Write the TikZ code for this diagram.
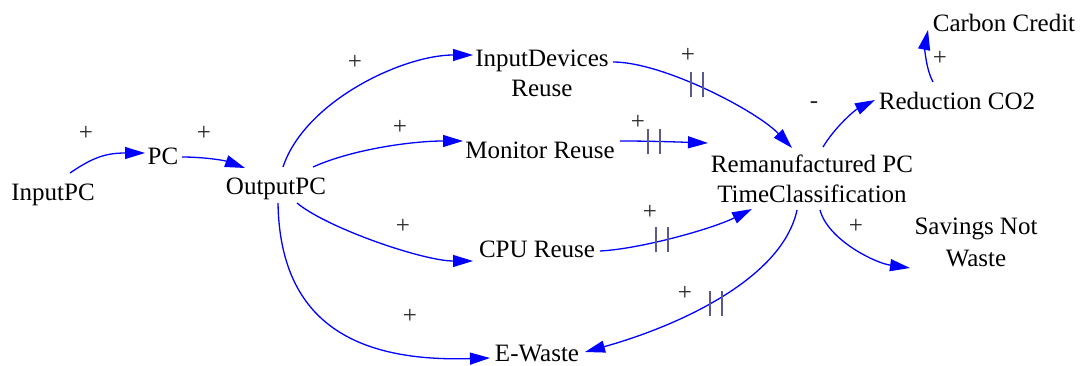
\documentclass[tikz,border=0pt]{standalone}
\usepackage{fontspec}
\setmainfont{Liberation Serif}
\usetikzlibrary{arrows.meta}
\definecolor{linkblue}{RGB}{0,0,255}
\definecolor{delaycol}{RGB}{90,90,140}
\tikzset{
  var/.style={anchor=base, inner sep=0pt, align=center, font=\fontsize{25}{30}\selectfont, text=black},
  pol/.style={inner sep=0pt, font=\fontsize{25}{30}\selectfont, text=black!85},
  link/.style={draw=linkblue, line width=1.3pt, -{Triangle[length=20pt,width=12pt,fill=linkblue]}},
  delaymark/.pic={\draw[delaycol, line width=1.1pt] (-6,-12.5) -- (-6,12.5) (6,-12.5) -- (6,12.5);}
}
\begin{document}
\begin{tikzpicture}[x=1pt,y=1pt]
\useasboundingbox (0,0) rectangle (1083,366);
% variables (base anchor = baseline of last line)
\node[var] (inpc) at (53,165) {InputPC};
\node[var] (pc) at (163,201) {PC};
\node[var] (outpc) at (276,171) {OutputPC};
\node[var] (indev) at (542,269) {InputDevices\\Reuse};
\node[var] (mon) at (540,207) {Monitor Reuse};
\node[var] (cpu) at (537,108) {CPU Reuse};
\node[var] (ewaste) at (537,4) {E-Waste};
\node[var] (reman) at (812,163) {Remanufactured PC\\TimeClassification};
\node[var] (redco2) at (957,256) {Reduction CO2};
\node[var] (carbon) at (1004,334) {Carbon Credit};
\node[var, font=\fontsize{25}{32}\selectfont] (savings) at (976,99) {Savings Not\\Waste};
% links
\draw[link] ([shift={(17,28)}]inpc.base) .. controls +(22,15) and +(-40,0) .. ([shift={(-18,12)}]pc.base);
\draw[link] ([shift={(19,8)}]pc.base) .. controls +(20,0) and +(-22,8) .. ([shift={(-31,27)}]outpc.base);
\draw[link] ([shift={(7,28)}]outpc.base) .. controls +(22,66) and +(-70,0) .. ([shift={(-69,42)}]indev.base);
\draw[link] ([shift={(37,28)}]outpc.base) .. controls +(40,18) and +(-50,0) .. ([shift={(-77,18)}]mon.base);
\draw[link] ([shift={(21,-8)}]outpc.base) .. controls +(30,-25) and +(-50,0) .. ([shift={(-64,-3)}]cpu.base);
\draw[link] ([shift={(2,-8)}]outpc.base) .. controls +(2,-123) and +(-130,-4) .. ([shift={(-47,4)}]ewaste.base);
\draw[link] ([shift={(71,35)}]indev.base) .. controls +(50,0) and +(-35,37) .. ([shift={(-20,55)}]reman.base);
\draw[link] ([shift={(80,18)}]mon.base) .. controls +(30,0) and +(-30,1) .. ([shift={(-104,60)}]reman.base);
\draw[link] ([shift={(63,7)}]cpu.base) .. controls +(40,2) and +(-40,-20) .. ([shift={(-60,-6)}]reman.base);
\draw[link] ([shift={(-15,-7)}]reman.base) .. controls +(-15,-70) and +(90,25) .. ([shift={(48,10)}]ewaste.base);
\draw[link] ([shift={(11,56)}]reman.base) .. controls +(12,20) and +(-20,-10) .. ([shift={(-82,10)}]redco2.base);
\draw[link] ([shift={(-24,28)}]redco2.base) .. controls +(-8,15) and +(-3,-15) .. ([shift={(-76,2)}]carbon.base);
\draw[link] ([shift={(8,-7)}]reman.base) .. controls +(8,-30) and +(-35,5) .. ([shift={(-66,-1)}]savings.base);
% delay marks
\pic at (697,281) {delaymark};
\pic at (654,224) {delaymark};
\pic at (662,126) {delaymark};
\pic at (716,62) {delaymark};
% polarities
\node[pol] (p1) at (86,233) {+};
\node[pol] (p2) at (204,233) {+};
\node[pol] (p3) at (355,304) {+};
\node[pol] (p4) at (400,239) {+};
\node[pol] (p5) at (403,140) {+};
\node[pol] (p6) at (410,50) {+};
\node[pol] (p7) at (688,311) {+};
\node[pol] (p8) at (638,244) {+};
\node[pol] (p9) at (650,154) {+};
\node[pol] (p10) at (685,73) {+};
\node[pol] (p11) at (814,261) {-};
\node[pol] (p12) at (940,308) {+};
\node[pol] (p13) at (856,140) {+};
\end{tikzpicture}
\end{document}
